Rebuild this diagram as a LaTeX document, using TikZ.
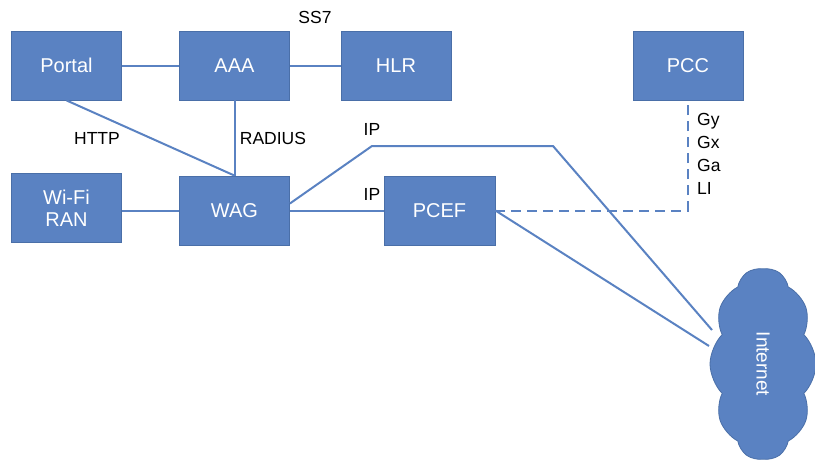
\documentclass[tikz,border=0pt]{standalone}
\usepackage{fontspec}
\setmainfont{Liberation Sans}
\usetikzlibrary{shapes.symbols,calc}
\definecolor{boxblue}{HTML}{5A82C2}
\definecolor{boxedge}{HTML}{4A6FA8}
\begin{document}
\begin{tikzpicture}[x=1pt,y=-1pt,
  box/.style={draw=boxedge, line width=0.8pt, fill=boxblue, text=white,
    font=\fontsize{20}{22}\selectfont, inner sep=0pt, align=center,
    minimum width=110pt, minimum height=69pt},
  link/.style={draw=boxblue, line width=2pt},
  dlink/.style={link, dash pattern=on 10pt off 6pt},
  lbl/.style={text=black, font=\fontsize{17.5}{23}\selectfont, inner sep=0pt}]
\useasboundingbox (0,0) rectangle (815,466);
% boxes
\node[box] (portal) at (66.5,65.5) {Portal};
\node[box] (aaa) at (234.5,65.5) {AAA};
\node[box] (hlr) at (396,65.5) {HLR};
\node[box] (pcc) at (688,65.5) {PCC};
\node[box] (wifi) at (66.5,208) {Wi-Fi\\RAN};
\node[box] (wag) at (234.5,210.5) {WAG};
\node[box, minimum width=111pt] (pcef) at (439.5,210.5) {PCEF};
\node[cloud, cloud puffs=10, cloud puff arc=90, cloud ignores aspect,
  draw=boxedge, line width=0.8pt, fill=boxblue, text=white,
  font=\fontsize{19}{21}\selectfont,
  minimum width=192pt, minimum height=106pt, rotate=-90] (net) at (763,364) {Internet};
% connector end points on the cloud
\coordinate (n1) at (712,330);
\coordinate (n2) at (709,346);
\coordinate (bend1) at (372,146);
\coordinate (bend2) at (553,146);
% links
\draw[link] (portal) -- (aaa);
\draw[link] (aaa) -- (hlr);
\draw[link] (portal.south) -- (wag.north);
\draw[link] (aaa.south) -- (wag.north);
\draw[link] (wifi.east |- wag.east) -- (wag.west);
\draw[link] (wag.east) -- (pcef.west);
\draw[link] ($(wag.east)+(0,-7)$) -- (bend1) -- (bend2) -- (n1);
\draw[link] (pcef.east) -- (n2);
\draw[dlink] (pcef.east) -| (pcc.south);
% labels
\node[lbl] (ss7) at (315,17) {SS7};
\node[lbl] (http) at (97,138) {HTTP};
\node[lbl] (radius) at (273,138) {RADIUS};
\node[lbl] (ip1) at (372,129) {IP};
\node[lbl] (ip2) at (372,194) {IP};
\node[lbl, anchor=north west, align=left] (gy) at (697,113) {Gy\\Gx\\Ga\\LI};
\end{tikzpicture}
\end{document}
